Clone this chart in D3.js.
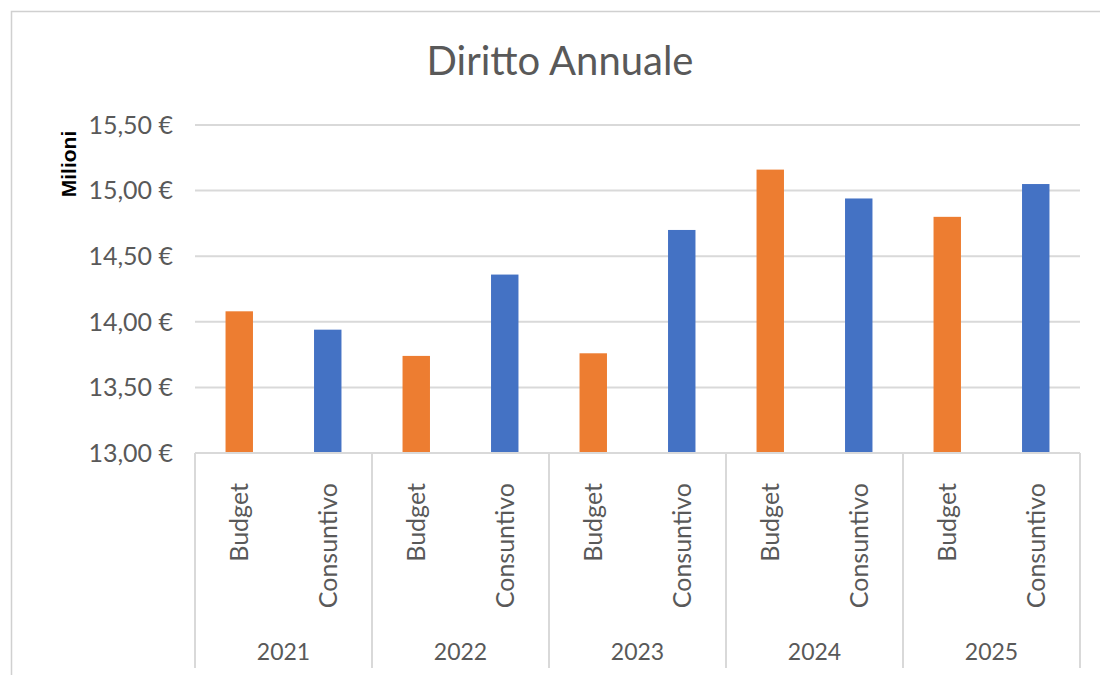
<!DOCTYPE html>
<html>
<head>
<meta charset="utf-8">
<script src="https://cdn.jsdelivr.net/npm/d3@7"></script>
<style>
  body { margin: 0; background: #fff; }
  svg { display: block; }
</style>
</head>
<body>
<svg width="1100" height="675"></svg>
<script>
// data (milioni di euro)
var years = ['2021', '2022', '2023', '2024', '2025'];
var kinds = ['Budget', 'Consuntivo'];
var budget = [14.08, 13.74, 13.76, 15.16, 14.80];
var consuntivo = [13.94, 14.36, 14.70, 14.94, 15.05];
var yTicks = [13.0, 13.5, 14.0, 14.5, 15.0, 15.5];

var colors = { Budget: '#ED7D31', Consuntivo: '#4472C4' };
var font = 'Lato, "Open Sans", sans-serif';

var svg = d3.select('svg');

// outer frame
svg.append('rect')
  .attr('x', 11.5).attr('y', 11.5)
  .attr('width', 1200).attr('height', 800)
  .attr('fill', 'none').attr('stroke', '#d0d0d0').attr('stroke-width', 1.5);

var plotLeft = 195, plotRight = 1080, plotTop = 125, plotBottom = 453;

// flatten to one bar per category
var rows = [];
years.forEach(function(yr, i){
  rows.push({ year: yr, kind: 'Budget', key: yr + '-Budget', value: budget[i] });
  rows.push({ year: yr, kind: 'Consuntivo', key: yr + '-Consuntivo', value: consuntivo[i] });
});

var x = d3.scaleBand()
  .domain(rows.map(function(d){ return d.key }))
  .range([plotLeft, plotRight])
  .paddingInner(0.69)
  .paddingOuter(0.345);

var xYear = d3.scaleBand().domain(years).range([plotLeft, plotRight]);

var y = d3.scaleLinear().domain([13, 15.5]).range([plotBottom, plotTop]);

// gridlines
svg.append('g').selectAll('line')
  .data(yTicks.slice(1))
  .enter().append('line')
    .attr('x1', plotLeft).attr('x2', plotRight)
    .attr('y1', function(d){ return y(d) }).attr('y2', function(d){ return y(d) })
    .attr('stroke', '#d9d9d9').attr('stroke-width', 2);

// y axis labels
var fmt = function(d){ return d3.format('.2f')(d).replace('.', ',') + ' €' };
svg.append('g').selectAll('text')
  .data(yTicks)
  .enter().append('text')
    .attr('x', 173)
    .attr('y', function(d){ return y(d) })
    .attr('dy', '0.35em')
    .attr('text-anchor', 'end')
    .style('font-family', font).style('font-size', '25px').style('fill', '#595959')
    .text(fmt);

svg.append('text')
  .attr('transform', 'translate(76,164) rotate(-90)')
  .attr('text-anchor', 'middle')
  .style('font-family', 'Arial, "Liberation Sans", sans-serif')
  .style('font-size', '21px').style('font-weight', 'bold').style('fill', '#000')
  .text('Milioni');

// bars
svg.append('g').selectAll('rect')
  .data(rows)
  .enter().append('rect')
    .attr('x', function(d){ return x(d.key) })
    .attr('width', x.bandwidth())
    .attr('y', function(d){ return y(d.value) })
    .attr('height', function(d){ return y(13) - y(d.value) })
    .attr('fill', function(d){ return colors[d.kind] });

// category axis with year groups
var axisColor = '#d9d9d9';
svg.append('line')
  .attr('x1', plotLeft).attr('x2', plotRight)
  .attr('y1', plotBottom).attr('y2', plotBottom)
  .attr('stroke', axisColor).attr('stroke-width', 2);

var seps = years.map(function(yr){ return xYear(yr) }).concat([plotRight]);
svg.append('g').selectAll('line')
  .data(seps)
  .enter().append('line')
    .attr('x1', function(d){ return d }).attr('x2', function(d){ return d })
    .attr('y1', plotBottom).attr('y2', 668)
    .attr('stroke', axisColor).attr('stroke-width', 2);

svg.append('g').selectAll('text')
  .data(rows)
  .enter().append('text')
    .attr('transform', function(d){
      return 'translate(' + (x(d.key) + x.bandwidth() / 2 + 9) + ',483) rotate(-90)';
    })
    .attr('text-anchor', 'end')
    .style('font-family', font).style('font-size', '25px').style('fill', '#595959')
    .text(function(d){ return d.kind });

svg.append('g').selectAll('text')
  .data(years)
  .enter().append('text')
    .attr('x', function(d){ return xYear(d) + xYear.bandwidth() / 2 })
    .attr('y', 660)
    .attr('text-anchor', 'middle')
    .style('font-family', font).style('font-size', '23px').style('fill', '#595959')
    .text(function(d){ return d });

// title
svg.append('text')
  .attr('x', 560).attr('y', 75)
  .attr('text-anchor', 'middle')
  .style('font-family', font).style('font-size', '40px').style('fill', '#595959')
  .text('Diritto Annuale');
</script>
</body>
</html>
